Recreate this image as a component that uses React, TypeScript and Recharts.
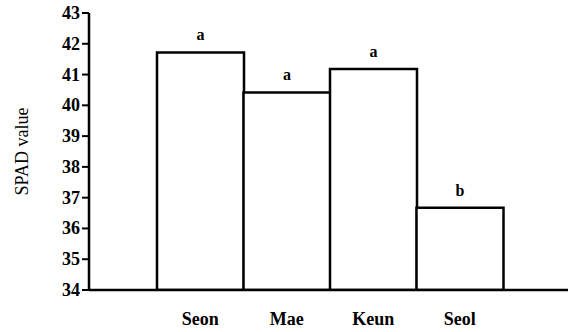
import React from "react";
import { BarChart, Bar, XAxis, YAxis, LabelList, Label } from "recharts";

const cultivars = ["Seon", "Mae", "Keun", "Seol"];
const spadValues = [41.72, 40.42, 41.18, 36.67];
const letters = ["a", "a", "a", "b"];
const yTicks = [34, 35, 36, 37, 38, 39, 40, 41, 42, 43];

const data = cultivars.map((name, i) => ({
  name,
  spad: spadValues[i],
  group: letters[i],
}));

const serif = "'Liberation Serif', 'Times New Roman', serif";

const XTick = (props: any) => {
  const { x, y, payload } = props;
  return (
    <text
      x={x}
      y={y + 27}
      textAnchor="middle"
      fill="#000"
      style={{ fontFamily: serif, fontWeight: 700, fontSize: 18 }}
    >
      {payload.value}
    </text>
  );
};

const YTick = (props: any) => {
  const { x, y, payload } = props;
  return (
    <text
      x={x}
      y={y + 6}
      textAnchor="end"
      fill="#000"
      style={{ fontFamily: serif, fontWeight: 700, fontSize: 18 }}
    >
      {payload.value}
    </text>
  );
};

const GroupLabel = (props: any) => {
  const { x, y, width, value } = props;
  return (
    <text
      x={x + width / 2}
      y={y - 12}
      textAnchor="middle"
      fill="#000"
      style={{ fontFamily: serif, fontWeight: 700, fontSize: 16 }}
    >
      {value}
    </text>
  );
};

export default function App() {
  return (
    <div style={{ position: "absolute", left: 0, top: 0, background: "#fff" }}>
      <BarChart
        width={568}
        height={332}
        data={data}
        margin={{ top: 13, right: 0, left: 0, bottom: 0 }}
        barCategoryGap={0}
      >
        <XAxis
          dataKey="name"
          height={42}
          padding={{ left: 68, right: 65 }}
          axisLine={{ stroke: "#000", strokeWidth: 2.5 }}
          tickLine={false}
          tick={<XTick />}
        />
        <YAxis
          width={89}
          domain={[34, 43]}
          ticks={yTicks}
          allowDataOverflow
          axisLine={{ stroke: "#000", strokeWidth: 2.5 }}
          tickLine={{ stroke: "#000", strokeWidth: 2 }}
          tickSize={7}
          tickMargin={2}
          tick={<YTick />}
        >
          <Label
            value="SPAD value"
            angle={-90}
            position="insideLeft"
            offset={22}
            style={{ textAnchor: "middle", fill: "#000", fontSize: 18, fontFamily: serif }}
          />
        </YAxis>
        <Bar
          dataKey="spad"
          fill="#fff"
          stroke="#000"
          strokeWidth={2.5}
          isAnimationActive={false}
        >
          <LabelList dataKey="group" content={<GroupLabel />} />
        </Bar>
      </BarChart>
    </div>
  );
}
